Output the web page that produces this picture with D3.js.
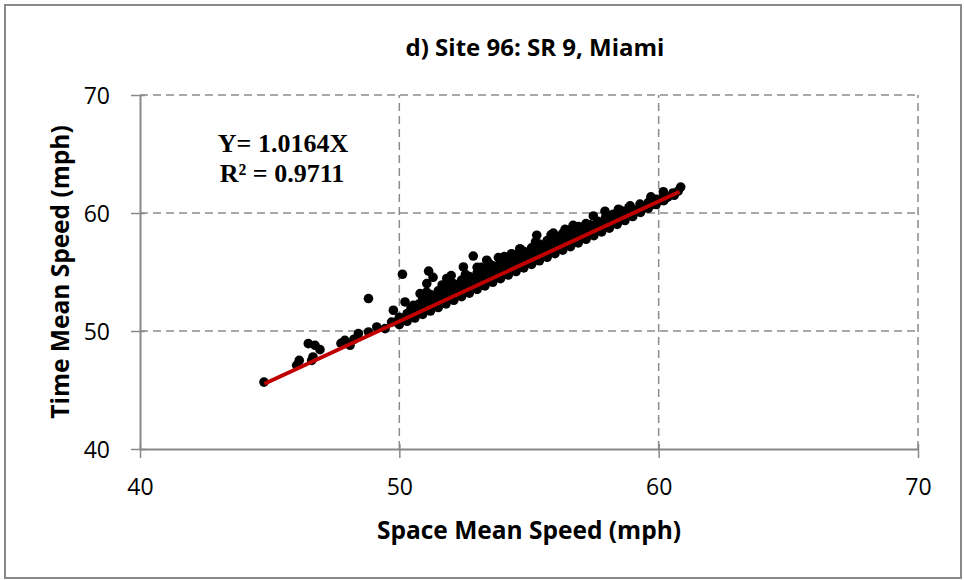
<!DOCTYPE html>
<html>
<head>
<meta charset="utf-8">
<script src="https://cdn.jsdelivr.net/npm/d3@7"></script>
<style>
  body { margin: 0; background: #fff; }
  svg { display: block; }
</style>
</head>
<body>
<svg id="chart" width="964" height="580"></svg>
<script>
// axis / grid values
const tickValues = [40, 50, 60, 70]
const gridValues = [50, 60, 70]

// trend line: Y = 1.0164X, drawn over the span of the data
const slope = 1.0164
const fitRange = [44.8, 60.8]

// scatter (space mean speed / time mean speed)
const smsRow1 = [50.0,50.3,50.6,50.9,51.2,51.5,51.8,52.1,52.4,52.7,53.0,53.3,53.6,53.9,54.2,54.5,54.8,55.1,55.4,55.7,56.0,56.3,56.6,56.9,57.2,57.5,57.8,58.1,58.4,58.7,59.0,59.3,59.6,59.9,60.2]
const tmsRow1 = [50.55,50.82,51.1,51.4,51.69,51.99,52.3,52.6,52.91,53.21,53.52,53.82,54.13,54.43,54.74,55.04,55.35,55.64,55.95,56.25,56.55,56.85,57.15,57.47,57.77,58.08,58.4,58.72,59.04,59.36,59.7,60.05,60.4,60.72,61.05]

const smsRow2 = [50.15,50.45,50.75,51.05,51.35,51.65,51.95,52.25,52.55,52.85,53.15,53.45,53.75,54.05,54.35,54.65,54.95,55.25,55.55,55.85,56.15,56.45,56.75,57.05,57.35,57.65,57.95,58.25,58.55,58.85,59.15,59.45,59.75,60.05,60.35]
const tmsRow2 = [50.98,51.27,51.6,51.88,52.2,52.5,52.8,53.1,53.42,53.72,54.02,54.33,54.62,54.94,55.24,55.55,55.85,56.16,56.46,56.77,57.07,57.38,57.68,57.99,58.29,58.6,58.9,59.2,59.51,59.82,60.12,60.43,60.73,61.04,61.34]

const smsRow3 = [50.0,50.3,50.6,50.9,51.2,51.5,51.8,52.1,52.4,52.7,53.0,53.3,53.6,53.9,54.2,54.5,54.8,55.1,55.4,55.7,56.0,56.3,56.6,56.9,57.2,57.5,57.8,58.1,58.4,58.7,59.0,59.3,59.6,59.9,60.2]
const tmsRow3 = [51.17,51.48,51.78,52.09,52.39,52.7,53.0,53.3,53.61,53.91,54.22,54.52,54.83,55.13,55.44,55.74,56.05,56.35,56.66,56.96,57.27,57.57,57.88,58.18,58.49,58.79,59.1,59.4,59.71,60.0,60.3,60.6,60.88,61.17,61.45]

const smsRow4 = [50.45,50.75,51.05,51.35,51.65,51.95,52.25,52.55,52.85,53.15,53.45,53.75,54.05,54.35,54.65,54.95,55.25,55.55,55.85,56.15,56.45,56.75,57.05,57.35,57.65,57.95,58.25,58.55,58.85]
const tmsRow4 = [51.98,52.28,52.59,52.89,53.2,53.5,53.81,54.11,54.42,54.72,55.03,55.33,55.64,55.94,56.25,56.55,56.86,57.16,57.47,57.77,58.08,58.38,58.69,58.99,59.3,59.6,59.9,60.2,60.45]

const smsRow5 = [50.9,51.2,51.5,51.8,52.1,52.4,52.7,53.0,53.3,53.6,53.9,54.2,54.5,54.8,55.1,55.4,55.7,56.0,56.3,56.6,56.9,57.2]
const tmsRow5 = [52.79,53.09,53.4,53.7,54.0,54.31,54.61,54.92,55.22,55.53,55.83,56.14,56.44,56.75,57.05,57.36,57.66,57.97,58.27,58.58,58.85,59.1]

const smsRow6 = [51.05,51.65,51.95,52.55,53.15,53.45,54.05,54.65,55.25,55.85]
const tmsRow6 = [53.3,53.9,54.2,54.8,55.4,55.75,56.3,56.95,57.55,58.15]

// sparse points at the low end
const smsLow = [44.78,46.04,46.14,46.49,46.62,46.67,46.75,46.94,47.75,47.9,48.1,48.25,48.42,48.81,48.81,49.13,49.45,49.7,49.77,49.9,50.12,50.22,50.54,50.8,51.06,51.13]
const tmsLow = [45.67,47.09,47.51,48.93,47.51,47.8,48.79,48.42,48.95,49.21,48.79,49.3,49.78,52.75,49.92,50.34,50.2,50.76,51.76,50.76,54.81,52.46,52.18,53.17,54.02,55.07]

// points sitting on the upper edge of the band
const smsTop = [51.3,51.83,52.0,52.47,52.85,53.0,53.37,53.82,54.33,54.65,55.3,55.94,56.39,56.7,57.05,57.48,57.93,58.45,58.9,59.28,59.7,60.18,60.55,60.6,60.75,60.85]
const tmsTop = [54.55,54.45,54.7,55.43,56.35,55.4,56.0,56.22,56.55,56.95,58.12,58.3,58.62,58.95,58.8,59.75,60.15,60.32,60.6,60.76,61.37,61.8,61.7,61.5,61.85,62.2]

const title = 'd) Site 96: SR 9, Miami'
const xTitle = 'Space Mean Speed (mph)'
const yTitle = 'Time Mean Speed (mph)'
const eqText = 'Y= 1.0164X'
const r2Text = 'R\u00B2 = 0.9711'

const gridColor = '#8c8c8c'
const axisColor = '#888888'

function zipPoints(xs, ys) {
  return xs.map(function(x, i) { return { sms: x, tms: ys[i] } })
}

const points = [].concat(
  zipPoints(smsRow1, tmsRow1),
  zipPoints(smsRow2, tmsRow2),
  zipPoints(smsRow3, tmsRow3),
  zipPoints(smsRow4, tmsRow4),
  zipPoints(smsRow5, tmsRow5),
  zipPoints(smsRow6, tmsRow6),
  zipPoints(smsLow, tmsLow),
  zipPoints(smsTop, tmsTop)
)

const svg = d3.select('#chart')

const x = d3.scaleLinear().domain([40, 70]).range([140, 918])
const y = d3.scaleLinear().domain([40, 70]).range([449, 95])

// outer frame
svg.append('rect')
  .attr('x', 5).attr('y', 5)
  .attr('width', 956).attr('height', 573)
  .attr('fill', '#fff')
  .attr('stroke', axisColor)
  .attr('stroke-width', 2)

// dashed grid
svg.append('g').selectAll('line.hgrid')
  .data(gridValues)
  .join('line')
  .attr('class', 'hgrid')
  .attr('x1', x(40)).attr('x2', x(70))
  .attr('y1', d => y(d)).attr('y2', d => y(d))
  .attr('stroke', gridColor)
  .attr('stroke-width', 1.5)
  .attr('stroke-dasharray', '8,5')

svg.append('g').selectAll('line.vgrid')
  .data(gridValues)
  .join('line')
  .attr('class', 'vgrid')
  .attr('y1', y(40)).attr('y2', y(70))
  .attr('x1', d => x(d)).attr('x2', d => x(d))
  .attr('stroke', gridColor)
  .attr('stroke-width', 1.5)
  .attr('stroke-dasharray', '8,5')

// axes
const xAxis = svg.append('g')
  .attr('transform', 'translate(0,' + y(40) + ')')
  .call(d3.axisBottom(x).tickValues(tickValues).tickSize(9).tickSizeOuter(0))

const yAxis = svg.append('g')
  .attr('transform', 'translate(' + x(40) + ',0)')
  .call(d3.axisLeft(y).tickValues(tickValues).tickSize(9).tickSizeOuter(0))

xAxis.selectAll('.tick line').attr('y1', -5)
yAxis.selectAll('.tick line').attr('x1', 5)

;[xAxis, yAxis].forEach(function(ax) {
  ax.select('.domain').attr('stroke', axisColor).attr('stroke-width', 2)
  ax.selectAll('.tick line').attr('stroke', axisColor).attr('stroke-width', 1.5)
  ax.selectAll('.tick text')
    .attr('fill', '#000')
    .style('font-family', '"Open Sans", sans-serif')
    .style('font-size', '23px')
})

xAxis.selectAll('.tick text').attr('y', 46).attr('dy', 0)
yAxis.selectAll('.tick text').attr('x', -30).attr('dy', '0.36em')

// scatter
svg.append('g').selectAll('circle')
  .data(points)
  .join('circle')
  .attr('cx', d => x(d.sms))
  .attr('cy', d => y(d.tms))
  .attr('r', 4.8)
  .attr('fill', '#000')

// fitted line
svg.append('line')
  .attr('x1', x(fitRange[0])).attr('y1', y(fitRange[0] * slope))
  .attr('x2', x(fitRange[1])).attr('y2', y(fitRange[1] * slope))
  .attr('stroke', '#c00000')
  .attr('stroke-width', 4)

// texts
svg.append('text')
  .attr('x', 535).attr('y', 56)
  .attr('text-anchor', 'middle')
  .style('font-family', '"Open Sans", sans-serif')
  .style('font-weight', 'bold')
  .style('font-size', '24px')
  .text(title)

svg.append('text')
  .attr('x', 529).attr('y', 539)
  .attr('text-anchor', 'middle')
  .style('font-family', '"Open Sans", sans-serif')
  .style('font-weight', 'bold')
  .style('font-size', '24.5px')
  .text(xTitle)

svg.append('text')
  .attr('transform', 'translate(69,272) rotate(-90)')
  .attr('text-anchor', 'middle')
  .style('font-family', '"Open Sans", sans-serif')
  .style('font-weight', 'bold')
  .style('font-size', '24.5px')
  .text(yTitle)

svg.append('text')
  .attr('x', 283).attr('y', 152)
  .attr('text-anchor', 'middle')
  .style('font-family', '"Liberation Serif", "Times New Roman", serif')
  .style('font-weight', 'bold')
  .style('font-size', '26px')
  .text(eqText)

svg.append('text')
  .attr('x', 282).attr('y', 182)
  .attr('text-anchor', 'middle')
  .style('font-family', '"Liberation Serif", "Times New Roman", serif')
  .style('font-weight', 'bold')
  .style('font-size', '26px')
  .text(r2Text)
</script>
</body>
</html>
